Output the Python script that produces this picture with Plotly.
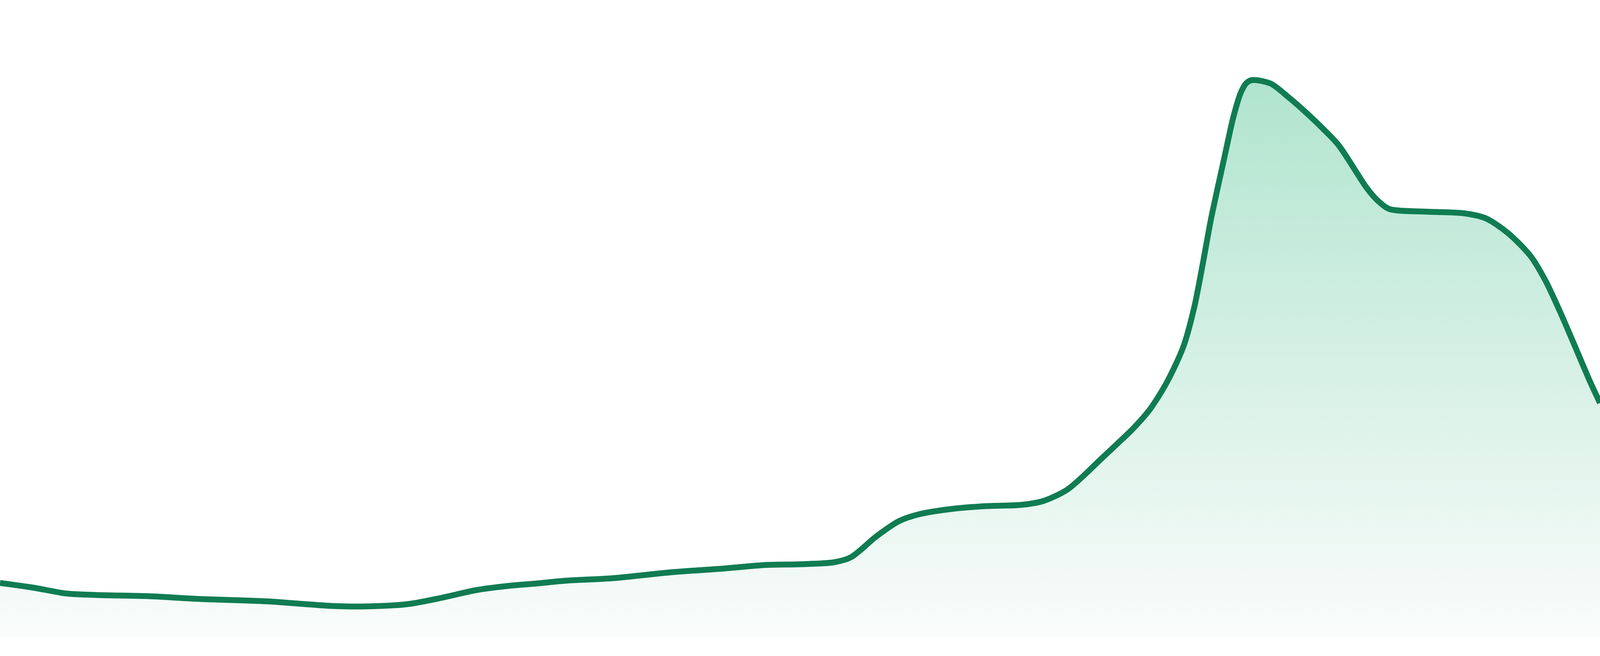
import plotly.graph_objects as go

# positions along the series and the values
days = [0, 10, 20, 30, 45, 60, 80, 100, 110, 122.4, 133, 143, 153, 160,
        170, 183.5, 200.8, 217.1, 229.4, 240, 250.2, 255.3, 263, 269.6, 275.7,
        285.9, 296.1, 306.3, 313, 320, 325, 330, 335, 340, 345, 350, 355,
        358.3, 361, 363.3, 367.4, 370, 372.3, 374, 375.7, 381.2, 386.7, 391.4,
        396.7, 401.6, 410, 413.1, 416.7, 427.9, 439, 445.7, 452.4, 459.1,
        463.6, 468, 472.5, 477, 480]
values = [13.9, 12.7, 11.2, 10.8, 10.5, 9.8, 9.2, 8.0, 7.9, 8.5, 10.2, 12.1,
          13.2, 13.7, 14.5, 15.1, 16.6, 17.6, 18.5, 18.7, 19.2, 20.5, 25.9,
          29.7, 31.5, 32.9, 33.6, 33.9, 34.9, 37.7, 41.3, 45.4, 49.4, 53.5,
          58.4, 65.2, 74.4, 84.6, 96.4, 107.1, 123.2, 133.2, 139.6, 142.0,
          142.7, 141.8, 138.2, 134.7, 130.4, 126.0, 115.1, 112.0, 109.7,
          109.0, 108.6, 107.3, 103.5, 97.7, 91.4, 83.4, 74.5, 65.5, 60.0]

line_color = "#107c52"

fig = go.Figure()
fig.add_trace(go.Scatter(
    x=days,
    y=values,
    mode="lines",
    line=dict(color=line_color, width=15, shape="spline", smoothing=0.8),
    fill="tozeroy",
    fillgradient=dict(
        type="vertical",
        colorscale=[[0, "#fafcfb"], [1, "#b0e4cf"]],
    ),
    hoverinfo="skip",
))

fig.update_layout(
    autosize=True,
    margin=dict(l=0, r=0, t=0, b=0, pad=0),
    paper_bgcolor="white",
    plot_bgcolor="white",
    showlegend=False,
    xaxis=dict(visible=False, range=[0, 480], fixedrange=True),
    yaxis=dict(visible=False, range=[-4.8, 163.2], fixedrange=True),
)

# fill the whole window, no page margin or scrollbars
fix_page = """
document.documentElement.style.overflow = 'hidden';
document.body.style.margin = '0';
document.body.style.overflow = 'hidden';
Plotly.Plots.resize(document.getElementById('{plot_id}'));
"""

fig.write_html(
    "out.html",
    default_width="100vw",
    default_height="100vh",
    config={"responsive": True, "displayModeBar": False},
    post_script=fix_page,
)
